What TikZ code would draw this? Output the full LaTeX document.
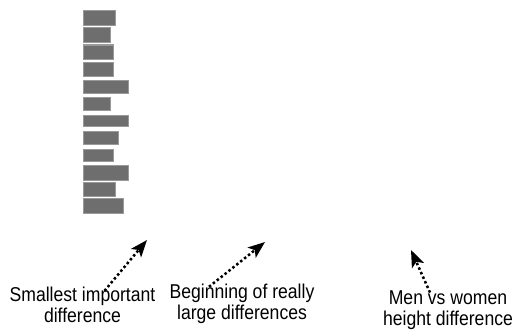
\documentclass[tikz,border=0pt]{standalone}
\usepackage{fontspec}
\setmainfont{Liberation Sans}[FakeStretch=0.88]
\usetikzlibrary{arrows.meta}

\tikzset{
  bar/.style={fill=black!57, draw=black!40, line width=1pt},
  caption/.style={align=center, inner sep=1pt, anchor=base,
    font=\fontsize{20}{20.5}\selectfont},
  pointer/.style={line width=2.5pt, dash pattern=on 2.5pt off 2.5pt,
    -{Stealth[length=17pt,width=13pt,inset=4pt]}}
}

\begin{document}
\begin{tikzpicture}[x=1pt,y=-1pt]
    \useasboundingbox (0,0) rectangle (518,329);
    % blurred bars
    \foreach \t/\b/\r in {11/26/115, 28/43/110, 45/59/113, 62/76/113, 80/93/128,
                          97/110/110, 115/126/128, 131/144/118, 149/161/113,
                          165/180/128, 182/196/115, 198/213/123}
        \draw[bar] (83,\t) rectangle (\r,\b);
    % labels (anchored at the baseline of the second line)
    \node[caption] (small)  at (82.5,322) {Smallest important\\difference};
    \node[caption] (large)  at (242,319)  {Beginning of really\\large differences};
    \node[caption] (height) at (448,325)  {Men vs women\\height difference};
    \coordinate (smalltip)  at (147,240);
    \coordinate (largetip)  at (265,242);
    \coordinate (heighttip) at (411,250);
    \draw[pointer] ([shift={(22,5)}]small.north)   -- (smalltip);
    \draw[pointer] ([shift={(-33,4)}]large.north) -- (largetip);
    \draw[pointer] ([shift={(-18,3)}]height.north) -- (heighttip);
\end{tikzpicture}
\end{document}
